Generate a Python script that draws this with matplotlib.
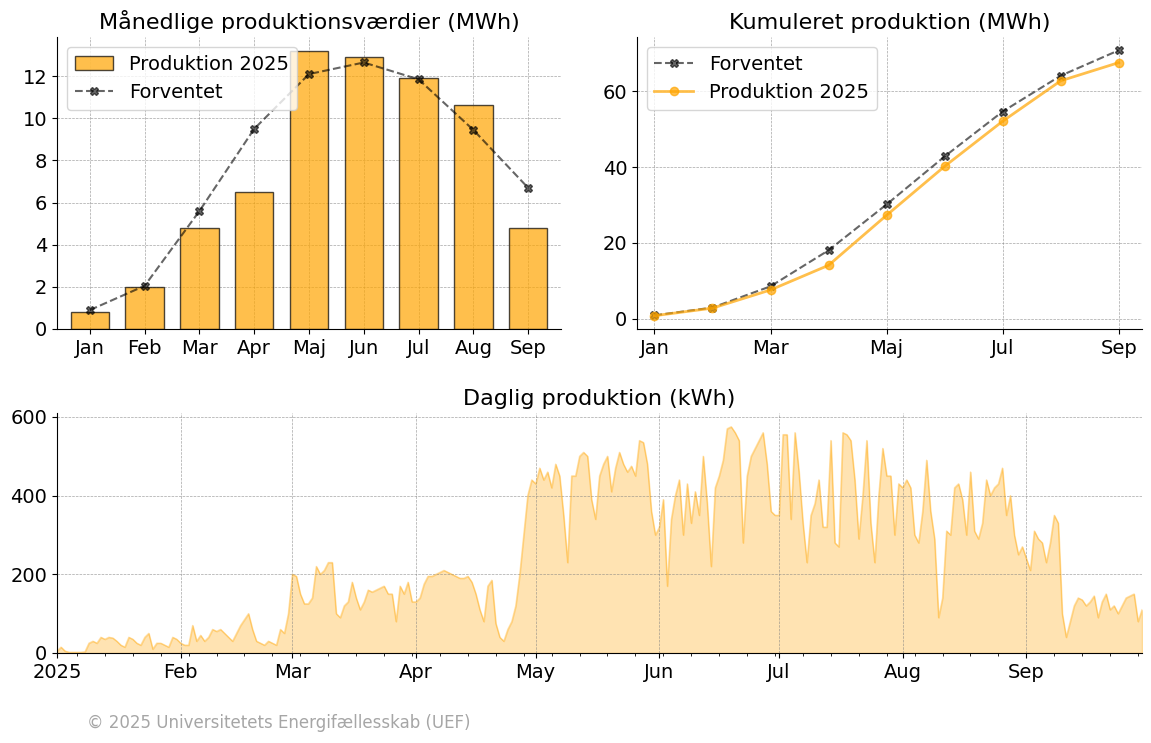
import matplotlib
matplotlib.use("Agg")
import matplotlib.pyplot as plt
import matplotlib.dates as mdates
import numpy as np
import pandas as pd

months = ["Jan", "Feb", "Mar", "Apr", "Maj", "Jun", "Jul", "Aug", "Sep"]
prod_2025 = [0.8, 2.0, 4.8, 6.5, 13.2, 12.9, 11.9, 10.65, 4.8]
expected = [0.9, 2.05, 5.6, 9.5, 12.1, 12.65, 11.85, 9.45, 6.7]

daily_jan = [5, 15, 5, 2, 2, 2, 2, 3, 25, 30, 25, 40, 35, 40, 38, 30, 20, 15, 40, 35, 25, 20, 40, 50, 10, 25, 25, 20, 15, 40, 35]
daily_feb = [25, 20, 20, 70, 30, 45, 30, 40, 60, 55, 60, 50, 40, 30, 50, 70, 85, 100, 60, 30, 25, 20, 30, 25, 20, 60, 50, 100]
daily_mar = [200, 195, 150, 125, 125, 140, 220, 200, 210, 230, 230, 100, 90, 120, 130, 180, 140, 110, 130, 160, 155, 160,
             165, 170, 150, 150, 80, 170, 150, 180, 130]
daily_apr = [130, 140, 175, 195, 195, 200, 205, 210, 205, 200, 195, 190, 190, 195, 180, 150, 110, 80, 170, 185, 75, 40,
             30, 60, 80, 120, 200, 300, 400, 440]
daily_may = [430, 470, 440, 460, 420, 480, 450, 350, 230, 450, 450, 500, 510, 500, 390, 340, 450, 480, 500, 410, 470, 510,
             480, 460, 475, 450, 540, 535, 480, 360, 300]
daily_jun = [320, 390, 170, 340, 400, 440, 300, 430, 330, 410, 350, 500, 380, 220, 420, 450, 490, 570, 575, 560, 540, 280,
             450, 500, 520, 540, 560, 480, 360, 350]
daily_jul = [350, 555, 555, 340, 560, 460, 330, 230, 350, 380, 440, 320, 320, 540, 280, 270, 560, 555, 540, 440, 290, 400,
             540, 330, 230, 400, 520, 450, 450, 300, 430]
daily_aug = [420, 440, 420, 300, 280, 360, 490, 360, 290, 90, 140, 310, 300, 420, 430, 390, 300, 460, 310, 290, 330, 440,
             400, 420, 430, 470, 350, 400, 300, 250, 270]
daily_sep = [240, 210, 310, 290, 280, 230, 280, 350, 330, 100, 40, 80, 120, 140, 135, 120, 130, 145, 90, 130, 150, 110,
             120, 100, 120, 140, 145, 150, 80, 110]

daily = (daily_jan + daily_feb + daily_mar + daily_apr + daily_may + daily_jun
         + daily_jul + daily_aug + daily_sep)
dates = pd.date_range("2025-01-01", periods=len(daily), freq="D")

ORANGE = "#FFA500"
plt.rcParams["font.size"] = 14

fig = plt.figure(figsize=(11.51, 7.43), dpi=100)
ax1 = fig.add_axes([57 / 1151, 1 - 329 / 743, 504 / 1151, 292 / 743])
ax2 = fig.add_axes([637 / 1151, 1 - 329 / 743, 505 / 1151, 292 / 743])
ax3 = fig.add_axes([57 / 1151, 1 - 653 / 743, 1085 / 1151, 240 / 743])

x = np.arange(len(months))

# Monthly
ax1.bar(x, prod_2025, width=0.7, color=ORANGE, alpha=0.7, edgecolor="black", label="Produktion 2025")
ax1.plot(x, expected, "--X", color="black", alpha=0.6, markersize=6, label="Forventet")
ax1.set_xticks(x)
ax1.set_xticklabels(months)
ax1.set_xlim(-0.6, 8.6)
ax1.set_yticks(range(0, 13, 2))
ax1.set_title("Månedlige produktionsværdier (MWh)", fontsize=16)
h, l = ax1.get_legend_handles_labels()
ax1.legend(h[::-1], l[::-1], loc="upper left")
ax1.grid(True, linestyle="--", linewidth=0.5, color="grey", alpha=0.7)
ax1.set_axisbelow(True)

# Cumulative
ax2.plot(x, np.cumsum(expected), "--X", color="black", alpha=0.6, markersize=6, label="Forventet")
ax2.plot(x, np.cumsum(prod_2025), "-o", color=ORANGE, alpha=0.7, linewidth=2, markersize=6, label="Produktion 2025")
ax2.set_xticks(x[::2])
ax2.set_xticklabels(months[::2])
ax2.set_xlim(-0.3, 8.4)
ax2.set_yticks([0, 20, 40, 60])
ax2.set_title("Kumuleret produktion (MWh)", fontsize=16)
ax2.legend(loc="upper left")
ax2.grid(True, linestyle="--", linewidth=0.5, color="grey", alpha=0.7)

# Daily
ax3.fill_between(dates, daily, 0, color=ORANGE, alpha=0.3)
ax3.plot(dates, daily, color=ORANGE, alpha=0.3, linewidth=1)
ax3.set_xlim(dates[0], dates[-1])
ax3.set_ylim(0, 610)
ax3.set_yticks([0, 200, 400, 600])
loc = mdates.MonthLocator()
ax3.xaxis.set_major_locator(loc)
ax3.xaxis.set_major_formatter(mdates.ConciseDateFormatter(loc))
ax3.xaxis.set_minor_locator(mdates.WeekdayLocator(byweekday=mdates.MO))
ax3.set_title("Daglig produktion (kWh)", fontsize=16)
ax3.grid(True, linestyle="--", linewidth=0.5, color="grey", alpha=0.7)

for ax in (ax1, ax2, ax3):
    ax.spines["top"].set_visible(False)
    ax.spines["right"].set_visible(False)

fig.text(87 / 1151, 1 - 723 / 743, "© 2025 Universitetets Energifællesskab (UEF)",
         fontsize=12, color="grey", alpha=0.7, va="center")

fig.savefig("out.png", dpi=100)
